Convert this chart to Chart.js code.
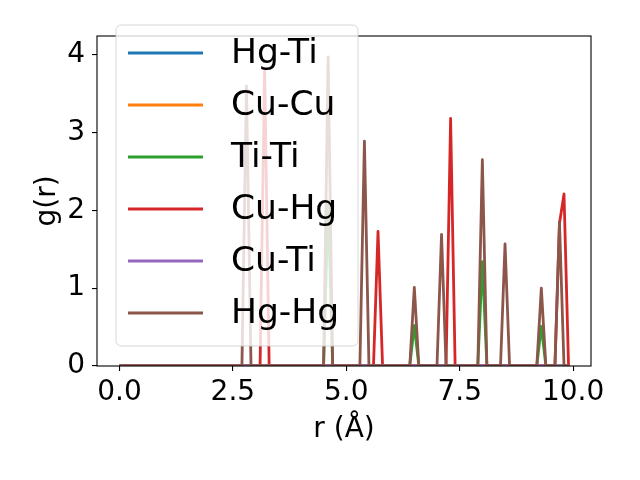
<!DOCTYPE html>
<html>
<head>
<meta charset="utf-8">
<title>g(r)</title>
<script src="https://cdn.jsdelivr.net/npm/chart.js@4.4.1/dist/chart.umd.min.js"></script>
<style>
  html, body { margin: 0; padding: 0; background: #fff; }
  canvas { display: block; }
</style>
</head>
<body>
<canvas id="rdf" width="640" height="480"></canvas>
<script>
// r grid (Å)
const rValues = [
  0.0, 0.1, 0.2, 0.3, 0.4, 0.5, 0.6, 0.7, 0.8, 0.9,
  1.0, 1.1, 1.2, 1.3, 1.4, 1.5, 1.6, 1.7, 1.8, 1.9,
  2.0, 2.1, 2.2, 2.3, 2.4, 2.5, 2.6, 2.7, 2.8, 2.9,
  3.0, 3.1, 3.2, 3.3, 3.4, 3.5, 3.6, 3.7, 3.8, 3.9,
  4.0, 4.1, 4.2, 4.3, 4.4, 4.5, 4.6, 4.7, 4.8, 4.9,
  5.0, 5.1, 5.2, 5.3, 5.4, 5.5, 5.6, 5.7, 5.8, 5.9,
  6.0, 6.1, 6.2, 6.3, 6.4, 6.5, 6.6, 6.7, 6.8, 6.9,
  7.0, 7.1, 7.2, 7.3, 7.4, 7.5, 7.6, 7.7, 7.8, 7.9,
  8.0, 8.1, 8.2, 8.3, 8.4, 8.5, 8.6, 8.7, 8.8, 8.9,
  9.0, 9.1, 9.2, 9.3, 9.4, 9.5, 9.6, 9.7, 9.8, 9.9
];

const pairLabels = ['Hg-Ti', 'Cu-Cu', 'Ti-Ti', 'Cu-Hg', 'Cu-Ti', 'Hg-Hg'];
const pairColors = ['#1f77b4', '#ff7f0e', '#2ca02c', '#d62728', '#9467bd', '#8c564b'];

const gHgTi = [
  0, 0, 0, 0, 0, 0, 0, 0, 0, 0,
  0, 0, 0, 0, 0, 0, 0, 0, 0, 0,
  0, 0, 0, 0, 0, 0, 0, 0, 0, 0,
  0, 0, 0, 0, 0, 0, 0, 0, 0, 0,
  0, 0, 0, 0, 0, 0, 0, 0, 0, 0,
  0, 0, 0, 0, 0, 0, 0, 0, 0, 0,
  0, 0, 0, 0, 0, 0, 0, 0, 0, 0,
  0, 0, 0, 0, 0, 0, 0, 0, 0, 0,
  0, 0, 0, 0, 0, 0, 0, 0, 0, 0,
  0, 0, 0, 0, 0, 0, 0, 0, 0, 0
];
const gCuCu = [
  0, 0, 0, 0, 0, 0, 0, 0, 0, 0,
  0, 0, 0, 0, 0, 0, 0, 0, 0, 0,
  0, 0, 0, 0, 0, 0, 0, 0, 0, 0,
  0, 0, 0, 0, 0, 0, 0, 0, 0, 0,
  0, 0, 0, 0, 0, 0, 0, 0, 0, 0,
  0, 0, 0, 0, 0, 0, 0, 0, 0, 0,
  0, 0, 0, 0, 0, 0, 0, 0, 0, 0,
  0, 0, 0, 0, 0, 0, 0, 0, 0, 0,
  0, 0, 0, 0, 0, 0, 0, 0, 0, 0,
  0, 0, 0, 0, 0, 0, 0, 0, 0, 0
];
const gTiTi = [
  0, 0, 0, 0, 0, 0, 0, 0, 0, 0,
  0, 0, 0, 0, 0, 0, 0, 0, 0, 0,
  0, 0, 0, 0, 0, 0, 0, 0, 0, 0,
  0, 0, 0, 0, 0, 0, 0, 0, 0, 0,
  0, 0, 0, 0, 0, 0, 2.1, 0, 0, 0,
  0, 0, 0, 0, 0, 0, 0, 0, 0, 0,
  0, 0, 0, 0, 0, 0.52, 0, 0, 0, 0,
  0, 0, 0, 0, 0, 0, 0, 0, 0, 0,
  1.34, 0, 0, 0, 0, 0, 0, 0, 0, 0,
  0, 0, 0, 0.51, 0, 0, 0, 0, 0, 0
];
const gCuHg = [
  0, 0, 0, 0, 0, 0, 0, 0, 0, 0,
  0, 0, 0, 0, 0, 0, 0, 0, 0, 0,
  0, 0, 0, 0, 0, 0, 0, 0, 0, 0,
  0, 0, 3.82, 0, 0, 0, 0, 0, 0, 0,
  0, 0, 0, 0, 0, 0, 0, 0, 0, 0,
  0, 0, 0, 0, 0, 0, 0, 1.73, 0, 0,
  0, 0, 0, 0, 0, 0, 0, 0, 0, 0,
  0, 0, 0, 3.18, 0, 0, 0, 0, 0, 0,
  0, 0, 0, 0, 0, 0, 0, 0, 0, 0,
  0, 0, 0, 0, 0, 0, 0, 1.83, 2.21, 0
];
const gCuTi = [
  0, 0, 0, 0, 0, 0, 0, 0, 0, 0,
  0, 0, 0, 0, 0, 0, 0, 0, 0, 0,
  0, 0, 0, 0, 0, 0, 0, 0, 0, 0,
  0, 0, 0, 0, 0, 0, 0, 0, 0, 0,
  0, 0, 0, 0, 0, 0, 0, 0, 0, 0,
  0, 0, 0, 0, 0, 0, 0, 0, 0, 0,
  0, 0, 0, 0, 0, 0, 0, 0, 0, 0,
  0, 0, 0, 0, 0, 0, 0, 0, 0, 0,
  0, 0, 0, 0, 0, 0, 0, 0, 0, 0,
  0, 0, 0, 0, 0, 0, 0, 0, 0, 0
];
const gHgHg = [
  0, 0, 0, 0, 0, 0, 0, 0, 0, 0,
  0, 0, 0, 0, 0, 0, 0, 0, 0, 0,
  0, 0, 0, 0, 0, 0, 0, 0, 3.6, 0,
  0, 0, 0, 0, 0, 0, 0, 0, 0, 0,
  0, 0, 0, 0, 0, 0, 3.97, 0, 0, 0,
  0, 0, 0, 0, 2.89, 0, 0, 0, 0, 0,
  0, 0, 0, 0, 0, 1.01, 0, 0, 0, 0,
  0, 1.69, 0, 0, 0, 0, 0, 0, 0, 0,
  2.65, 0, 0, 0, 0, 1.57, 0, 0, 0, 0,
  0, 0, 0, 1.0, 0, 0, 0, 1.85, 0, 0
];

const xTicks = [0, 2.5, 5, 7.5, 10];
const yTicks = [0, 1, 2, 3, 4];

const FONT = 'DejaVu Sans';
Chart.defaults.font.family = FONT;
Chart.defaults.color = '#000';

const series = [gHgTi, gCuCu, gTiTi, gCuHg, gCuTi, gHgHg];

const datasets = series.map((vals, i) => ({
  label: pairLabels[i],
  data: vals.map((y, j) => ({ x: rValues[j], y: y })),
  borderColor: pairColors[i],
  backgroundColor: pairColors[i],
  borderWidth: 2.8,
  pointRadius: 0,
  tension: 0,
  fill: false,
  clip: 0,
  borderJoinStyle: 'round',
  order: series.length - 1 - i   // later series drawn on top, like matplotlib
}));

// box around the axes + matplotlib-style legend inside the plot
const frameAndLegend = {
  id: 'frameAndLegend',
  afterDatasetsDraw(chart) {
    const { ctx, chartArea: a } = chart;
    ctx.save();
    ctx.strokeStyle = '#000';
    ctx.lineWidth = 1.1;
    ctx.strokeRect(a.left, a.top, a.right - a.left, a.bottom - a.top);
    ctx.restore();
  },
  afterDraw(chart) {
    const ctx = chart.ctx;
    const x0 = 116, y0 = 25, x1 = 358, y1 = 346, r = 6;
    ctx.save();
    ctx.beginPath();
    ctx.moveTo(x0 + r, y0);
    ctx.lineTo(x1 - r, y0);
    ctx.quadraticCurveTo(x1, y0, x1, y0 + r);
    ctx.lineTo(x1, y1 - r);
    ctx.quadraticCurveTo(x1, y1, x1 - r, y1);
    ctx.lineTo(x0 + r, y1);
    ctx.quadraticCurveTo(x0, y1, x0, y1 - r);
    ctx.lineTo(x0, y0 + r);
    ctx.quadraticCurveTo(x0, y0, x0 + r, y0);
    ctx.closePath();
    ctx.fillStyle = 'rgba(255,255,255,0.8)';
    ctx.fill();
    ctx.strokeStyle = 'rgba(204,204,204,0.8)';
    ctx.lineWidth = 1;
    ctx.stroke();

    ctx.font = '34.5px "' + FONT + '"';
    ctx.textBaseline = 'middle';
    ctx.textAlign = 'left';
    chart.data.datasets.forEach((ds, i) => {
      const y = 53 + i * 52;
      ctx.strokeStyle = ds.borderColor;
      ctx.lineWidth = 2.8;
      ctx.beginPath();
      ctx.moveTo(128, y);
      ctx.lineTo(203, y);
      ctx.stroke();
      ctx.fillStyle = '#000';
      ctx.fillText(ds.label, 231, y + 1);
    });
    ctx.restore();
  }
};

new Chart('rdf', {
  type: 'line',
  data: { datasets },
  options: {
    responsive: false,
    animation: false,
    layout: { padding: { top: 36, right: 49, left: 0, bottom: 0 } },
    plugins: {
      legend: { display: false },
      tooltip: { enabled: false }
    },
    scales: {
      x: {
        type: 'linear',
        min: -0.495,
        max: 10.395,
        afterBuildTicks: s => { s.ticks = xTicks.map(v => ({ value: v })); },
        afterFit: s => { s.height = 114; },
        ticks: {
          callback: v => v.toFixed(1),
          font: { size: 28 },
          color: '#000',
          padding: 5,
          maxRotation: 0,
          autoSkip: false
        },
        grid: { drawOnChartArea: false, drawTicks: true, tickLength: 5, color: '#000', lineWidth: 1.1 },
        border: { display: false },
        title: {
          display: true,
          text: 'r (Å)',
          font: { size: 28 },
          color: '#000',
          padding: { top: 0, bottom: 33 }
        }
      },
      y: {
        type: 'linear',
        min: 0,
        max: 4.24,
        afterBuildTicks: s => { s.ticks = yTicks.map(v => ({ value: v })); },
        afterFit: s => { s.width = 97; },
        ticks: {
          callback: v => String(v),
          font: { size: 28 },
          color: '#000',
          padding: 7
        },
        grid: { drawOnChartArea: false, drawTicks: true, tickLength: 5, color: '#000', lineWidth: 1.1 },
        border: { display: false },
        title: {
          display: true,
          text: 'g(r)',
          font: { size: 28 },
          color: '#000',
          padding: { top: 31, bottom: 0 }
        }
      }
    }
  },
  plugins: [frameAndLegend]
});
</script>
</body>
</html>
